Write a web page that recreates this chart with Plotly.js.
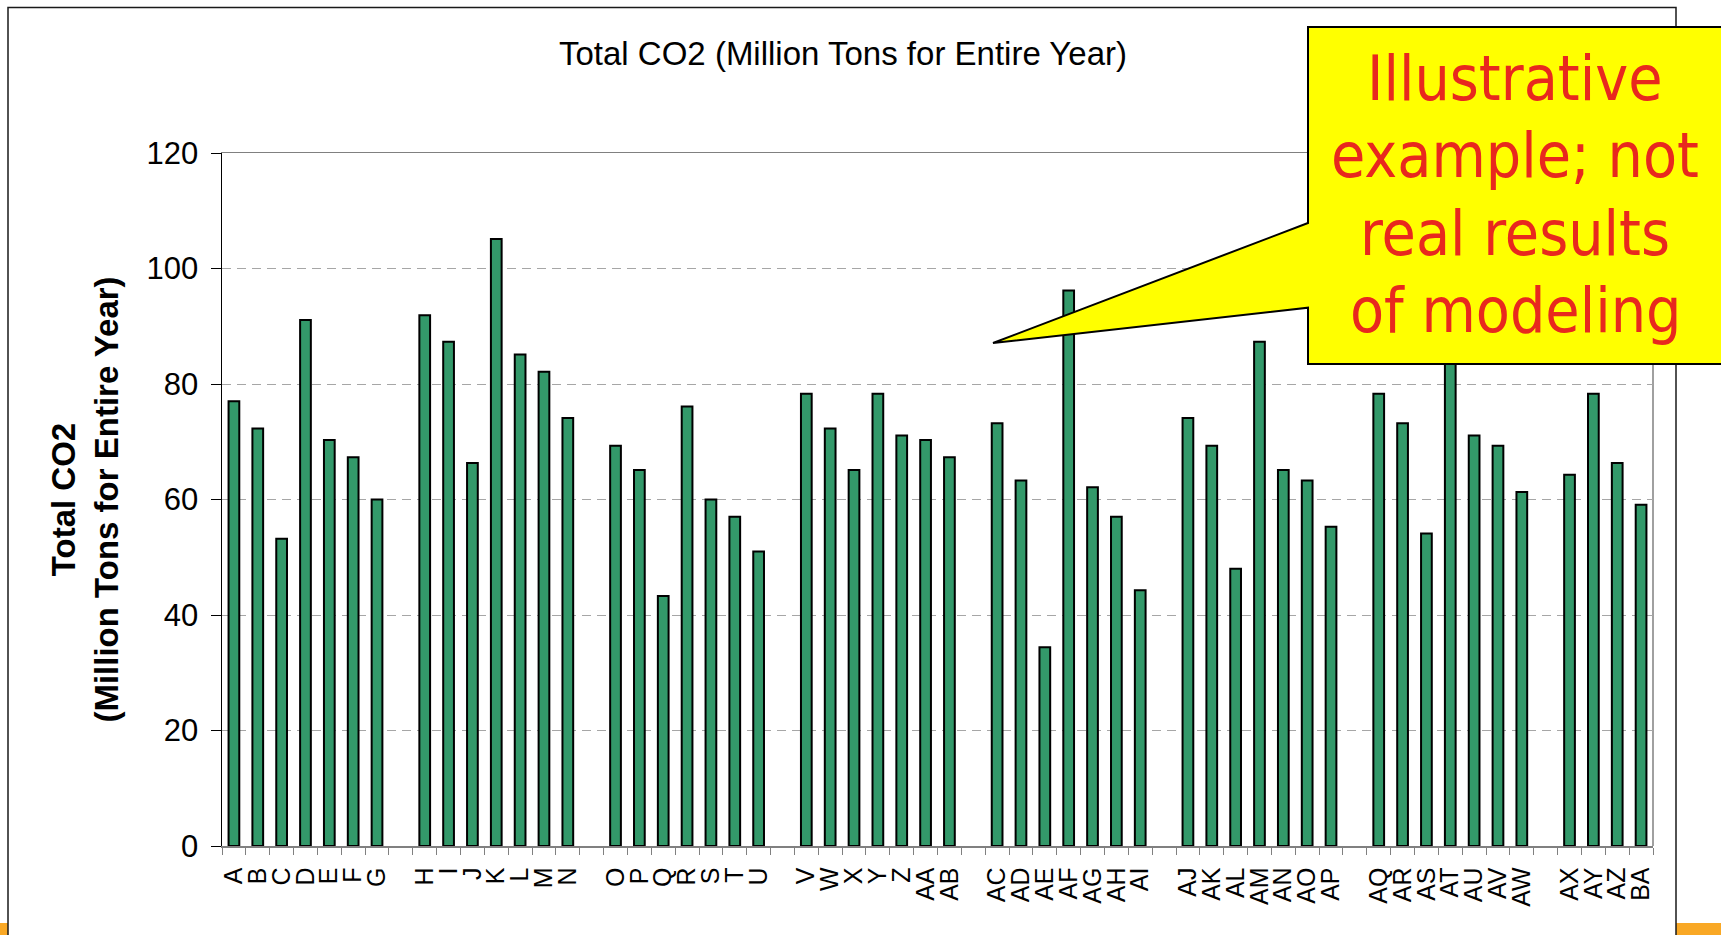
<!DOCTYPE html>
<html><head><meta charset="utf-8">
<script src="https://cdn.plot.ly/plotly-3.0.1.min.js"></script>
<style>html,body{margin:0;padding:0;background:#fff;}#chart{width:1721px;height:935px;}</style>
</head><body><div id="chart"></div>
<script>
// ---- data ----
const categories = ["A","B","C","D","E","F","G","",
  "H","I","J","K","L","M","N","",
  "O","P","Q","R","S","T","U","",
  "V","W","X","Y","Z","AA","AB","",
  "AC","AD","AE","AF","AG","AH","AI","",
  "AJ","AK","AL","AM","AN","AO","AP","",
  "AQ","AR","AS","AT","AU","AV","AW","",
  "AX","AY","AZ","BA"];
const co2Values = [77,72.3,53.2,91.1,70.3,67.3,60,null,
  91.9,87.3,66.3,105.1,85.1,82.1,74.1,null,
  69.3,65.1,43.3,76.1,60,57,51,null,
  78.3,72.3,65.1,78.3,71.1,70.3,67.3,null,
  73.2,63.3,34.4,96.2,62.1,57,44.3,null,
  74.1,69.3,48,87.3,65.1,63.3,55.3,null,
  78.3,73.2,54.1,90,71.1,69.3,61.3,null,
  64.3,78.3,66.3,59.1];
const yTickValues = [0,20,40,60,80,100,120];
const chartTitle = "Total CO2 (Million Tons for Entire Year)";
const yAxisTitle = "<b>Total CO2</b><br><b>(Million Tons for Entire Year)</b>";
const calloutLines = ["Illustrative", "example; not", "real results", "of modeling"];

// blank separator slots get unique invisible names
const xCats = categories.map((c, i) => c === "" ? " ".repeat(i + 1) : c);

// ---- layout helpers (pixel -> paper) ----
const L = 222, R = 1653, T = 153, B = 846;
const px = x => (x - L) / (R - L);
const py = y => (B - y) / (B - T);
const FONT = "Liberation Sans, Arial, sans-serif";
const calloutLineY = [79, 155, 233, 310];

const calloutPath = "M" + [
  [1308, 27], [1730, 27], [1730, 364], [1308, 364], [1308, 307.7], [993, 343], [1308, 223]
].map(p => px(p[0]) + "," + py(p[1])).join(" L") + " Z";

const trace = {
  type: "bar",
  x: xCats,
  y: co2Values,
  marker: { color: "#33996A", line: { color: "#000000", width: 2 } },
  hoverinfo: "x+y"
};

const layout = {
  width: 1721, height: 935,
  margin: { l: L, r: 1721 - R, t: T, b: 935 - B, pad: 0 },
  paper_bgcolor: "#ffffff",
  plot_bgcolor: "rgba(0,0,0,0)",
  bargap: 0.55,
  showlegend: false,
  font: { family: FONT, color: "#000" },
  title: {
    text: chartTitle,
    font: { family: FONT, size: 33, color: "#000" },
    xref: "container", x: 843 / 1721, xanchor: "center",
    yref: "container", y: 1 - 53 / 935, yanchor: "middle"
  },
  xaxis: {
    type: "category", categoryorder: "array", categoryarray: xCats,
    range: [-0.5, xCats.length - 0.5],
    tickmode: "array", tickvals: xCats, ticktext: categories,
    tickson: "boundaries", ticks: "outside", ticklen: 7, tickwidth: 1, tickcolor: "#808080",
    showline: true, linecolor: "#808080", linewidth: 1.5, mirror: true,
    tickangle: -90, tickfont: { family: FONT, size: 25, color: "#000" },
    ticklabelstandoff: 10,
    showgrid: false, zeroline: false, fixedrange: true
  },
  yaxis: {
    range: [0, 120], tickmode: "array", tickvals: yTickValues, ticktext: yTickValues.map(String),
    ticks: "outside", ticklen: 10, tickwidth: 1, tickcolor: "#000",
    showline: true, linecolor: "#000", linewidth: 1.5,
    showgrid: true, gridcolor: "#A6A6A6", gridwidth: 1, griddash: "9px,6px",
    zeroline: false,
    tickfont: { family: FONT, size: 31, color: "#000" },
    ticklabelstandoff: 6,
    title: { text: yAxisTitle, font: { family: FONT, size: 33, color: "#000" }, standoff: 18 },
    fixedrange: true
  },
  shapes: [
    { type: "rect", xref: "paper", yref: "paper", layer: "below",
      x0: px(0), x1: px(1721), y0: py(923), y1: py(945),
      fillcolor: "#F9A825", line: { width: 0 } },
    { type: "rect", xref: "paper", yref: "paper", layer: "below",
      x0: px(8), x1: px(1676), y0: py(7.5), y1: py(980),
      fillcolor: "#ffffff", line: { color: "#1a1a1a", width: 1.5 } },
    { type: "line", xref: "paper", yref: "paper", layer: "below",
      x0: 1, x1: 1, y0: 0, y1: 1, line: { color: "#808080", width: 1.5 } },
    { type: "path", xref: "paper", yref: "paper", layer: "above",
      path: calloutPath, fillcolor: "#FFFF00", line: { color: "#000", width: 2 } }
  ],
  annotations: calloutLines.map((t, i) => ({
    xref: "paper", yref: "paper", x: px(1515), y: py(calloutLineY[i]),
    xanchor: "center", yanchor: "middle", showarrow: false, align: "center",
    text: t,
    font: { family: "DejaVu Sans Condensed, DejaVu Sans, sans-serif", size: 62, color: "#E8281E" }
  }))
};

Plotly.newPlot("chart", [trace], layout, { displayModeBar: false, staticPlot: true });
</script>
</body></html>
